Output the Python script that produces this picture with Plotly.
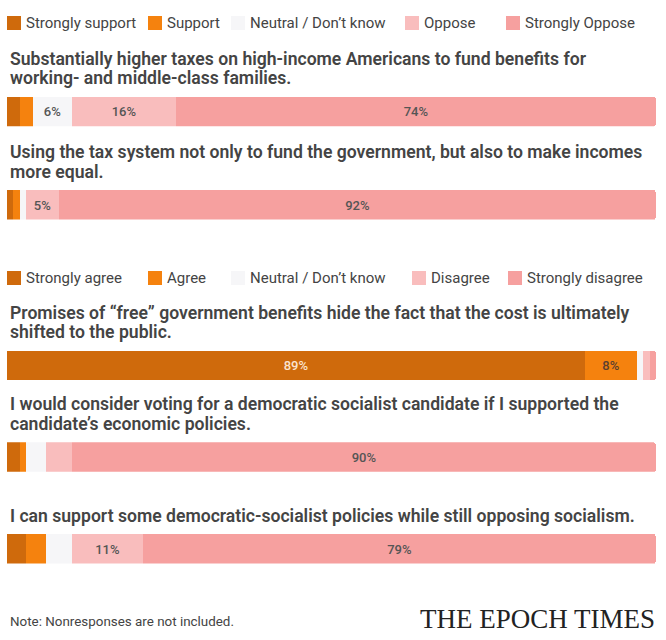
import plotly.graph_objects as go

# ---------------- data ----------------
LEGEND_SUPPORT = ["Strongly support", "Support", "Neutral / Don’t know", "Oppose", "Strongly Oppose"]
LEGEND_AGREE = ["Strongly agree", "Agree", "Neutral / Don’t know", "Disagree", "Strongly disagree"]

QUESTIONS = [
    ["Substantially higher taxes on high-income Americans to fund benefits for",
     "working- and middle-class families."],
    ["Using the tax system not only to fund the government, but also to make incomes",
     "more equal."],
    ["Promises of “free” government benefits hide the fact that the cost is ultimately",
     "shifted to the public."],
    ["I would consider voting for a democratic socialist candidate if I supported the",
     "candidate’s economic policies."],
    ["I can support some democratic-socialist policies while still opposing socialism."],
]

STRONG_POSITIVE = [2, 1, 89, 2, 3]
POSITIVE = [2, 1, 8, 1, 3]
NEUTRAL = [6, 1, 1, 3, 4]
NEGATIVE = [16, 5, 1, 4, 11]
STRONG_NEGATIVE = [74, 92, 1, 90, 79]

NOTE = "Note: Nonresponses are not included."
LOGO = "THE EPOCH TIMES"

# ---------------- style ----------------
W, H = 666, 640
COLORS = ["#cf6a0c", "#f5820e", "#f6f6f8", "#f9bdbd", "#f6a09f"]
LABEL_COLORS = ["#fbe4d0", "#5b4030", "#555555", "#555555", "#555555"]
TEXT = "#444444"
FONT = "Roboto"

BAR_TOPS = [96.7, 190.0, 350.5, 442.3, 534.0]
BAR_H = 29.5
X0, X1 = 6.8, 656.0


def px(x):
    return x / W


def py(y):
    return 1 - y / H


series = [STRONG_POSITIVE, POSITIVE, NEUTRAL, NEGATIVE, STRONG_NEGATIVE]

fig = go.Figure()
for qi in range(len(QUESTIONS)):
    yname = "y" if qi == 0 else f"y{qi + 1}"
    for k, vals in enumerate(series):
        v = vals[qi]
        fig.add_trace(go.Bar(
            x=[v], y=[0], orientation="h",
            xaxis="x", yaxis=yname,
            marker=dict(color=COLORS[k], line=dict(width=0)),
            text=[f"{v}%" if v >= 5 else ""],
            textposition="inside", insidetextanchor="middle", textangle=0,
            textfont=dict(family=FONT, size=13, color=LABEL_COLORS[k], weight=500),
            hoverinfo="skip", showlegend=False,
        ))

layout = dict(
    width=W, height=H,
    margin=dict(l=0, r=0, t=0, b=0),
    paper_bgcolor="white", plot_bgcolor="white",
    barmode="stack", bargap=0, barcornerradius=3,
    showlegend=False,
    xaxis=dict(domain=[px(X0), px(X1)], range=[0, 100], visible=False, fixedrange=True),
)
for qi, top in enumerate(BAR_TOPS):
    key = "yaxis" if qi == 0 else f"yaxis{qi + 1}"
    layout[key] = dict(domain=[py(top + BAR_H), py(top)], range=[-0.5, 0.5],
                       visible=False, fixedrange=True, anchor="x")
fig.update_layout(**layout)

annotations = []
shapes = []

# question text
for qi, lines in enumerate(QUESTIONS):
    top = BAR_TOPS[qi]
    n = len(lines)
    for li, line in enumerate(lines):
        yc = top - 18.5 - (n - 1 - li) * 19.5
        annotations.append(dict(
            text=line, x=px(8), y=py(yc), xref="paper", yref="paper",
            xanchor="left", yanchor="middle", showarrow=False,
            font=dict(family=FONT, size=17.6, color=TEXT, weight=600)))

# legends
LEGENDS = [
    (LEGEND_SUPPORT, 23, [7, 148, 231, 405, 506]),
    (LEGEND_AGREE, 278, [7, 148, 231, 412, 508]),
]
for labels, yc, xs in LEGENDS:
    for k, lab in enumerate(labels):
        x = xs[k]
        shapes.append(dict(type="rect", xref="paper", yref="paper",
                           x0=px(x), x1=px(x + 14), y0=py(yc + 7), y1=py(yc - 7),
                           fillcolor=COLORS[k], line=dict(width=0)))
        annotations.append(dict(
            text=lab, x=px(x + 17), y=py(yc), xref="paper", yref="paper",
            xanchor="left", yanchor="middle", showarrow=False,
            font=dict(family=FONT, size=15, color=TEXT)))

annotations.append(dict(
    text=NOTE, x=px(8), y=py(621), xref="paper", yref="paper",
    xanchor="left", yanchor="middle", showarrow=False,
    font=dict(family=FONT, size=13.4, color=TEXT)))
annotations.append(dict(
    text=LOGO, x=px(657), y=py(619), xref="paper", yref="paper",
    xanchor="right", yanchor="middle", showarrow=False,
    font=dict(family="Liberation Serif", size=27, color="#222222")))

fig.update_layout(annotations=annotations, shapes=shapes)
fig.write_html("out.html", config={"displayModeBar": False},
               post_script="document.body.style.margin='0';")
